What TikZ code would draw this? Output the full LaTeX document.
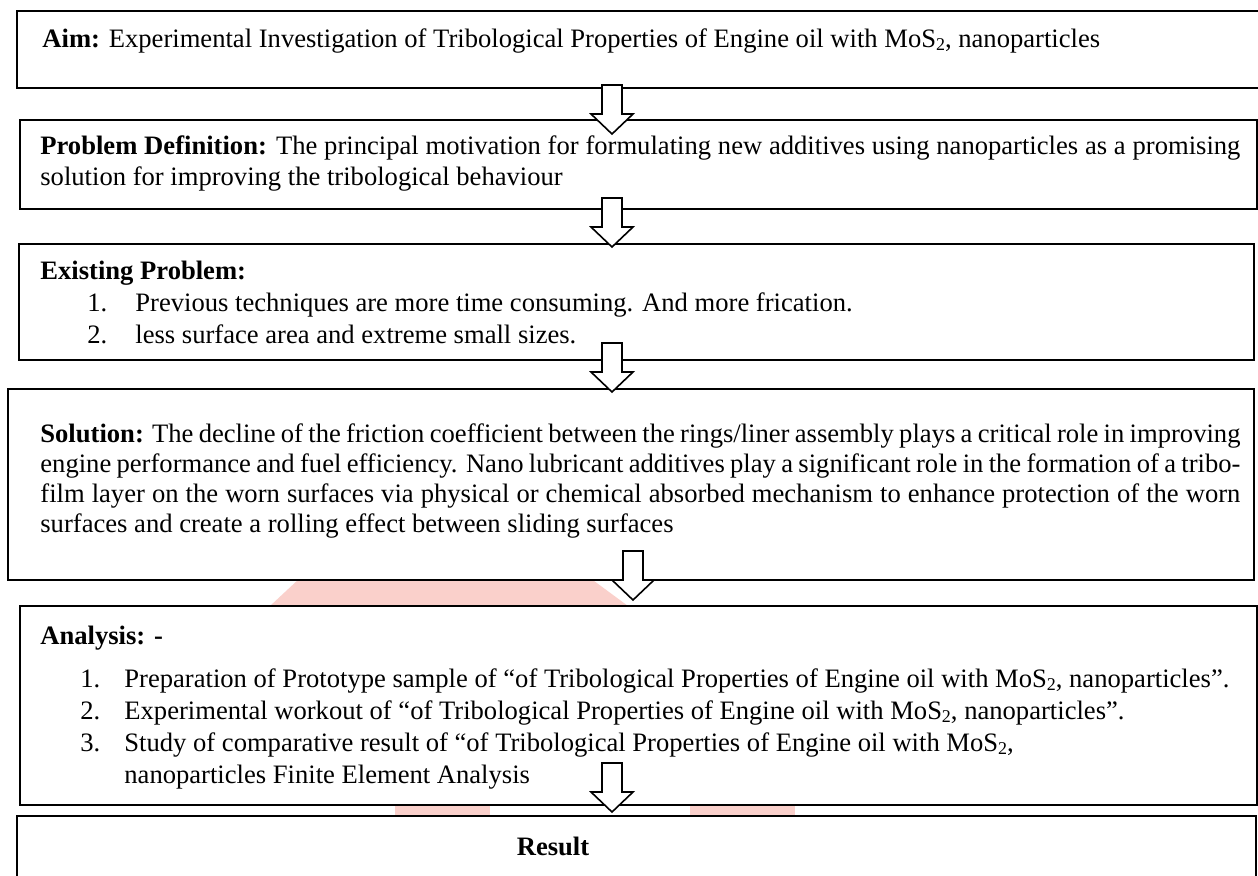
\documentclass[tikz,border=0pt]{standalone}
\usepackage{fontspec}
\setmainfont{Liberation Serif}
\newcommand\subtwo{\raisebox{-0.25ex}{\fontsize{9}{9}\selectfont 2}}
\newcommand\jline[1]{\hbox to 600pt{#1}}
\begin{document}
\begin{tikzpicture}[x=0.5pt,y=-0.5pt,
  box/.style={draw=black, line width=1pt, fill=white, rectangle, inner sep=0pt, anchor=north west},
  txt/.style={anchor=base west, inner sep=0pt, font=\fontsize{13.3}{15}\selectfont},
  ctxt/.style={anchor=base, inner sep=0pt, font=\fontsize{13.3}{15}\selectfont},
  barrowstyle/.style={draw=black, fill=white, line width=0.8pt, line join=miter},
  wm/.style={fill={rgb,255:red,250;green,208;blue,203}},
  pics/downarrow/.style={code={\path[barrowstyle] (-10,0) -- (-10,29) -- (-21,29) -- (0,49) -- (21,29) -- (10,29) -- (10,0) -- cycle;}}
]
\useasboundingbox (0,0) rectangle (1258,875);
\clip (0,0) rectangle (1258,875);
\fill[white] (0,0) rectangle (1258,875);
% watermark traces in the gaps
\fill[wm] (270,606) -- (300,578) -- (590,578) -- (628,606) -- cycle;
\fill[wm] (395,803) rectangle (490,816);
\fill[wm] (690,803) rectangle (795,816);
% boxes
\node[box, minimum width=625pt, minimum height=38.5pt] (aim) at (16,10) {};
\node[box, minimum width=618.5pt, minimum height=44.5pt] (prob) at (19,119) {};
\node[box, minimum width=617.5pt, minimum height=58pt] (exist) at (18,243) {};
\node[box, minimum width=623pt, minimum height=95.5pt] (sol) at (7,388) {};
\node[box, minimum width=618.5pt, minimum height=99.5pt] (ana) at (19,605) {};
\node[box, minimum width=619.5pt, minimum height=37.5pt] (res) at (16,815) {};
% texts
\node[txt] (aimT) at (42,47) {\textbf{Aim:} Experimental Investigation of Tribological Properties of Engine oil with MoS\subtwo, nanoparticles};
\node[txt] (probT1) at (40,154) {\jline{\textbf{Problem Definition:} The principal motivation for formulating new additives using nanoparticles as a promising}};
\node[txt] (probT2) at (40,185) {solution for improving the tribological behaviour};
\node[txt] (exH) at (40,279) {\textbf{Existing Problem:}};
\node[txt] (exN1) at (87,311) {1.};
\node[txt] (exI1) at (135,311) {Previous techniques are more time consuming. And more frication.};
\node[txt] (exN2) at (87,343) {2.};
\node[txt] (exI2) at (135,343) {less surface area and extreme small sizes.};
\node[txt] (solT1) at (40,442) {\jline{\textbf{Solution:} The decline of the friction coefficient between the rings/liner assembly plays a critical role in improving}};
\node[txt] (solT2) at (40,472) {\jline{engine performance and fuel efficiency. Nano lubricant additives play a significant role in the formation of a tribo-}};
\node[txt] (solT3) at (40,502) {\jline{film layer on the worn surfaces via physical or chemical absorbed mechanism to enhance protection of the worn}};
\node[txt] (solT4) at (40,532) {surfaces and create a rolling effect between sliding surfaces};
\node[txt] (anH) at (40,644) {\textbf{Analysis: -}};
\node[txt] (anN1) at (80,687) {1.};
\node[txt] (anI1) at (124,687) {Preparation of Prototype sample of “of Tribological Properties of Engine oil with MoS\subtwo, nanoparticles”.};
\node[txt] (anN2) at (80,719) {2.};
\node[txt] (anI2) at (124,719) {Experimental workout of “of Tribological Properties of Engine oil with MoS\subtwo, nanoparticles”.};
\node[txt] (anN3) at (80,751) {3.};
\node[txt] (anI3) at (124,751) {Study of comparative result of “of Tribological Properties of Engine oil with MoS\subtwo,};
\node[txt] (anI3b) at (124,783) {nanoparticles Finite Element Analysis};
\node[ctxt] (resT) at (553,855) {\textbf{Result}};
% block arrows
\coordinate (a1) at (612,85);
\coordinate (a2) at (612,198);
\coordinate (a3) at (612,343);
\coordinate (a4) at (633,551);
\coordinate (a5) at (612,763);
\pic at (a1) {downarrow};
\pic at (a2) {downarrow};
\pic at (a3) {downarrow};
\pic at (a4) {downarrow};
\pic at (a5) {downarrow};
\end{tikzpicture}
\end{document}
